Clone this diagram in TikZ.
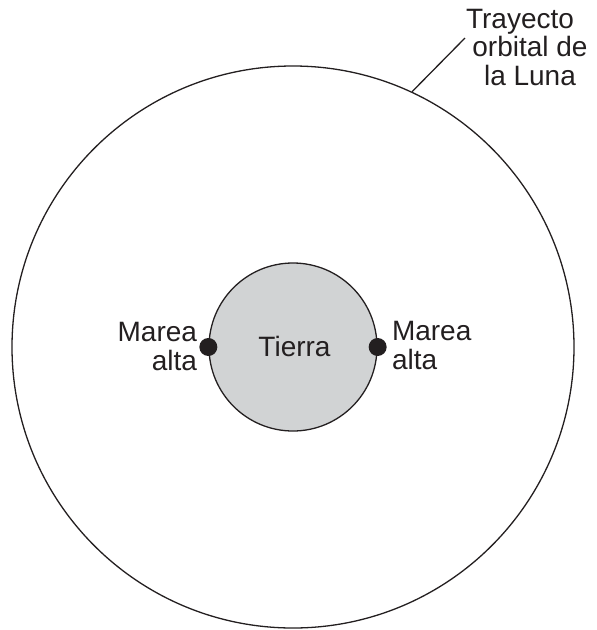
\documentclass[tikz,border=0pt]{standalone}
\usepackage{fontspec}
\setmainfont{Liberation Sans}
\definecolor{ink}{HTML}{231F20}
\definecolor{earthgray}{HTML}{D1D3D4}
\begin{document}
\begin{tikzpicture}[x=1pt,y=-1pt,
  lbl/.style={inner sep=0pt, outer sep=0pt, font=\fontsize{28}{29}\selectfont, text=ink},
  ring/.style={circle, draw=ink, line width=1.3pt, inner sep=0pt},
  tidedot/.style={circle, fill=ink, minimum size=18pt, inner sep=0pt}]
\useasboundingbox (0,0) rectangle (597,630);
\node[ring, minimum size=562pt] (orbit) at (293,347) {};
\node[ring, fill=earthgray, minimum size=168pt] (earth) at (293,347) {};
\node[lbl, anchor=base] (tierra) at (294.5,356) {Tierra};
\node[tidedot] (dotL) at (earth.west) {};
\node[tidedot] (dotR) at (earth.east) {};
\node[lbl, align=right, anchor=base east] (mareaL) at (197,370) {Marea\\alta};
\node[lbl, align=left, anchor=base west] (mareaR) at (392,369.5) {Marea\\alta};
\node[lbl, font=\fontsize{28}{28.4}\selectfont, align=center, anchor=base] (orbitlbl) at (530,85) {Trayecto\hspace*{20pt}\\orbital de\\la Luna};
\coordinate (leaderend) at (465,38);
\draw[ink, line width=1.3pt] (orbit.65.5) -- (leaderend);
\end{tikzpicture}
\end{document}
